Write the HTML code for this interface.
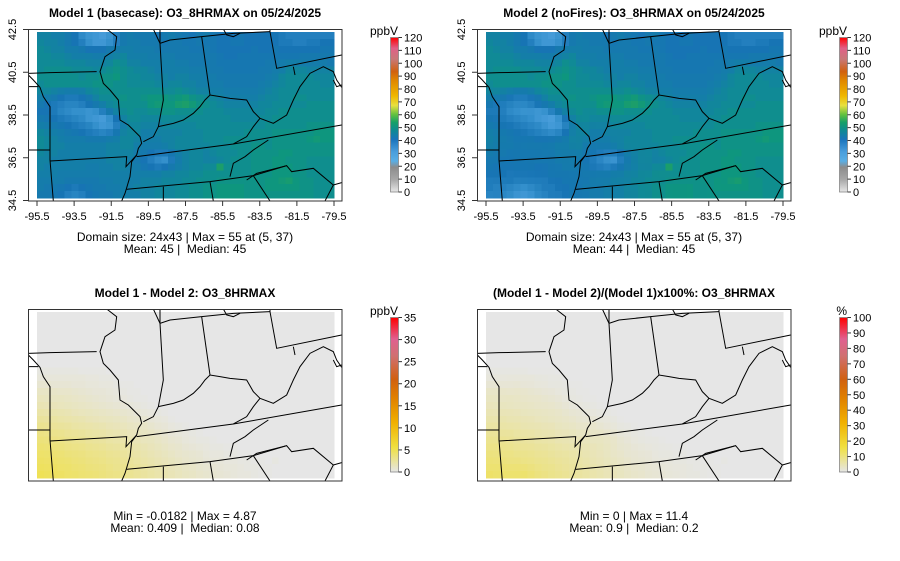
<!DOCTYPE html>
<html><head><meta charset="utf-8">
<style>
html,body{margin:0;padding:0;background:#fff;}
svg{display:block;font-family:"Liberation Sans",sans-serif;}
text{white-space:pre;}
</style></head>
<body>
<svg id="chart" width="900" height="561" viewBox="0 0 900 561" xmlns="http://www.w3.org/2000/svg">
<defs>
<g id="borders" fill="none" stroke="#000" stroke-width="3">
<path d="M85,220 L150,218 L290,215"/>
<path d="M85,260 L115,260"/>
<path d="M85,225 L100,240 L120,262 L130,290 L150,320 L150,480 L160,603"/>
<path d="M85,450 L150,450"/>
<path d="M150,483 L380,470 L378,500 L410,465"/>
<path d="M320,87 L350,110 L345,150 L315,170 L300,215 L310,250 L330,270 L355,300 L360,360 L385,375 L400,390 L420,410 L425,430 L415,445 L410,465 L395,485 L390,530 L375,580 L365,603"/>
<path d="M410,470 L485,460 L700,432 L1025,375"/>
<path d="M380,568 L630,545 L760,527 L860,497"/>
<path d="M740,540 L770,520 L860,497 L875,515 L940,505 L1000,555 L975,603"/>
<path d="M1000,555 L1025,548"/>
<path d="M480,87 L480,130 L490,300 L475,380 L460,410 L430,425"/>
<path d="M475,380 L520,370 L550,360 L580,340 L600,320 L615,300 L630,285 L660,290 L690,295 L740,300 L760,335 L780,355 L820,370 L860,345 L880,300 L900,260 L930,220 L970,200 L1000,215 L1010,240 L1025,262"/>
<path d="M605,110 L630,285"/>
<path d="M460,87 L480,130 L510,120 L605,110 L700,100 L810,95"/>
<path d="M670,87 L680,105 L700,110 L720,100"/>
<path d="M810,87 L810,95 L830,205 L1025,165"/>
<path d="M880,200 L885,225"/>
<path d="M780,355 L760,380 L740,410 L700,432"/>
<path d="M805,420 L760,450 L735,470 L700,490 L690,530"/>
<path d="M490,560 L490,603"/>
<path d="M630,545 L640,603"/>
<path d="M760,527 L810,603"/>
<path d="M1000,240 L1010,260 L1025,255"/>
</g>
<clipPath id="boxclip"><rect x="85" y="87" width="942" height="516"/></clipPath>
<linearGradient id="gradPpb" x1="0" y1="1" x2="0" y2="0">
<stop offset="0" stop-color="#e6e6e6"/><stop offset="0.08" stop-color="#a8a8a8"/>
<stop offset="0.16" stop-color="#8c8c8c"/><stop offset="0.2" stop-color="#5aaee4"/>
<stop offset="0.26" stop-color="#4a9edc"/><stop offset="0.34" stop-color="#1a74bc"/>
<stop offset="0.4" stop-color="#0f8a92"/><stop offset="0.45" stop-color="#16a068"/>
<stop offset="0.5" stop-color="#60c040"/><stop offset="0.56" stop-color="#e8e040"/>
<stop offset="0.62" stop-color="#f0b800"/><stop offset="0.72" stop-color="#e08800"/>
<stop offset="0.78" stop-color="#d06010"/><stop offset="0.86" stop-color="#c87878"/>
<stop offset="0.93" stop-color="#e06088"/><stop offset="1" stop-color="#ff0000"/>
</linearGradient>
<linearGradient id="gradDiff" x1="0" y1="1" x2="0" y2="0">
<stop offset="0" stop-color="#e6e6e6"/><stop offset="0.16" stop-color="#f0e040"/>
<stop offset="0.32" stop-color="#f0b000"/><stop offset="0.48" stop-color="#e08000"/>
<stop offset="0.6" stop-color="#d06010"/><stop offset="0.75" stop-color="#d07070"/>
<stop offset="0.86" stop-color="#e06090"/><stop offset="1" stop-color="#ff0000"/>
</linearGradient>
</defs>
<g id="layer"></g>
</svg>
<script>
// Model 1 O3_8HRMAX grid (24 rows north->south, 43 cols west->east), ppbV
const model1 = [
[45,45,44,44,42,40,36,34,33,32,34,38,42,43,42,42,42,40,42,43,42,41,40,42,43,41,40,40,40,41,40,40,40,40,40,39,38,38,38,38,38,38,38],
[46,45,45,44,42,40,38,35,33,33,35,38,42,43,43,42,42,42,41,42,42,41,41,42,41,41,40,40,41,41,40,40,40,40,40,39,39,38,38,39,39,40,40],
[47,46,45,45,43,43,42,40,40,40,42,43,44,44,43,43,43,42,42,42,42,42,41,41,42,41,40,40,40,40,40,41,40,40,41,40,40,40,40,40,40,41,41],
[47,47,46,46,45,44,44,44,43,43,44,45,46,44,44,44,43,43,43,43,42,42,42,42,42,42,41,40,40,41,41,41,41,41,41,41,41,41,42,42,42,42,42],
[47,47,47,47,46,46,46,45,45,45,46,48,47,45,45,44,44,44,44,44,43,43,42,42,42,42,41,41,41,41,41,41,41,42,42,43,44,44,43,43,43,43,42],
[47,48,48,48,48,47,47,47,46,47,48,49,48,47,46,46,45,44,44,44,44,44,43,43,43,42,42,41,41,41,41,41,42,42,43,44,46,46,46,45,45,45,45],
[48,48,48,48,48,48,47,48,48,49,49,50,48,47,47,46,46,45,45,44,45,45,44,44,43,43,42,42,42,42,42,42,42,43,44,46,47,47,47,47,46,46,46],
[47,48,48,48,48,48,48,48,49,49,49,48,48,47,47,47,47,46,45,46,46,45,45,44,44,43,43,42,42,42,42,42,43,44,45,46,47,47,47,47,47,46,46],
[46,46,45,44,43,43,44,46,47,48,48,48,48,48,48,48,48,48,47,47,48,47,46,45,45,44,44,43,43,43,43,43,44,45,46,47,47,47,47,47,47,47,47],
[44,43,42,40,39,39,40,42,45,47,47,48,49,48,48,49,50,50,50,49,50,51,49,48,47,46,45,44,44,44,44,44,45,46,46,47,47,48,48,47,47,47,47],
[42,40,39,38,37,37,38,40,42,44,46,47,48,48,48,48,50,51,50,50,52,53,51,49,48,47,46,45,45,45,45,45,46,46,47,47,47,47,47,48,48,48,48],
[40,40,39,37,36,35,35,34,35,38,42,45,47,48,47,47,48,48,49,49,48,48,48,48,47,47,47,46,46,46,46,46,46,47,47,48,48,48,48,48,48,48,48],
[42,41,40,39,38,37,36,34,33,32,35,40,45,47,47,46,46,46,47,47,47,47,47,47,47,47,47,47,46,46,46,46,47,47,48,48,48,48,48,48,48,48,48],
[44,43,42,41,40,39,38,37,35,33,34,38,44,46,46,45,45,45,46,46,46,46,46,47,47,47,47,47,47,47,47,47,47,48,48,48,48,48,48,49,49,49,49],
[46,45,44,43,42,41,40,39,38,37,38,41,45,46,46,44,44,45,45,45,45,46,46,46,47,47,47,47,47,47,48,48,48,48,49,49,49,49,49,49,50,50,50],
[47,46,45,44,43,43,43,42,42,42,43,44,46,46,45,44,44,44,45,45,46,46,46,46,47,47,47,48,48,48,48,48,48,48,49,49,49,49,49,50,51,50,50],
[47,46,45,45,44,44,44,44,44,44,45,45,46,46,44,43,43,43,44,45,46,46,46,46,46,47,47,47,48,48,48,49,49,48,49,49,49,49,49,49,49,49,49],
[46,45,45,44,44,44,44,44,44,44,45,45,45,45,43,42,40,39,39,41,44,45,46,46,45,46,47,47,47,48,48,49,49,49,49,50,50,49,49,49,49,49,49],
[45,45,44,44,44,44,44,44,44,44,45,45,45,44,42,40,38,36,35,39,43,45,46,46,45,45,46,47,48,48,48,49,49,49,50,50,49,49,49,48,48,48,48],
[45,44,44,44,44,44,44,43,43,44,44,45,45,44,43,41,40,39,40,42,44,45,46,46,47,47,53,48,48,48,48,49,49,49,50,50,50,49,49,48,48,48,48],
[44,44,44,43,43,43,43,43,43,44,44,44,44,44,44,44,44,44,45,45,46,46,47,47,48,48,48,48,48,48,48,49,49,49,50,50,50,49,49,48,48,48,48],
[43,43,43,43,42,42,42,42,42,43,43,44,44,44,44,45,45,45,46,46,46,47,47,48,48,48,49,49,49,49,49,49,49,50,50,51,52,50,49,49,48,48,48],
[43,42,42,41,40,39,40,41,42,42,43,43,44,44,45,45,45,46,46,46,47,47,48,48,49,49,50,50,50,50,49,49,49,50,50,50,50,50,49,49,48,48,48],
[42,42,41,40,38,37,38,40,41,42,42,43,44,44,44,45,45,46,46,46,47,47,48,48,49,49,50,50,50,50,49,49,49,49,49,49,49,49,49,49,48,48,48]
];
// Model 1 - Model 2 differences, ppbV (rows north->south)
const diffRows = [
[0,0,0,0,0,0,0,0,0,0,0,0,0,0,0,0,0,0,0,0,0,0,0,0,0,0,0,0,0,0,0,0,0,0,0,0,0,0,0,0,0,0,0],
[0,0,0,0,0,0,0,0,0,0,0,0,0,0,0,0,0,0,0,0,0,0,0,0,0,0,0,0,0,0,0,0,0,0,0,0,0,0,0,0,0,0,0],
[0,0,0,0,0,0,0,0,0,0,0,0,0,0,0,0,0,0,0,0,0,0,0,0,0,0,0,0,0,0,0,0,0,0,0,0,0,0,0,0,0,0,0],
[0,0,0,0,0,0,0,0,0,0,0,0,0,0,0,0,0,0,0,0,0,0,0,0,0,0,0,0,0,0,0,0,0,0,0,0,0,0,0,0,0,0,0],
[0,0,0,0,0,0,0,0,0,0,0,0,0,0,0,0,0,0,0,0,0,0,0,0,0,0,0,0,0,0,0,0,0,0,0,0,0,0,0,0,0,0,0],
[0,0,0,0,0,0,0,0,0,0,0,0,0,0,0,0,0,0,0,0,0,0,0,0,0,0,0,0,0,0,0,0,0,0,0,0,0,0,0,0,0,0,0],
[0,0,0,0,0,0,0,0,0,0,0,0,0,0,0,0,0,0,0,0,0,0,0,0,0,0,0,0,0,0,0,0,0,0,0,0,0,0,0,0,0,0,0],
[0,0,0,0,0,0,0,0,0,0,0,0,0,0,0,0,0,0,0,0,0,0,0,0,0,0,0,0,0,0,0,0,0,0,0,0,0,0,0,0,0,0,0],
[0.2,0.2,0.2,0.2,0.2,0.2,0.1,0.1,0.1,0.1,0,0,0,0,0,0,0,0,0,0,0,0,0,0,0,0,0,0,0,0,0,0,0,0,0,0,0,0,0,0,0,0,0],
[0.4,0.4,0.4,0.4,0.4,0.4,0.4,0.3,0.3,0.2,0.2,0.1,0,0,0,0,0,0,0,0,0,0,0,0,0,0,0,0,0,0,0,0,0,0,0,0,0,0,0,0,0,0,0],
[0.7,0.7,0.6,0.6,0.6,0.5,0.5,0.4,0.4,0.3,0.3,0.2,0.1,0.1,0,0,0,0,0,0,0,0,0,0,0,0,0,0,0,0,0,0,0,0,0,0,0,0,0,0,0,0,0],
[1.1,1.1,1,0.9,0.9,0.8,0.7,0.6,0.5,0.5,0.4,0.3,0.2,0.1,0.1,0,0,0,0,0,0,0,0,0,0,0,0,0,0,0,0,0,0,0,0,0,0,0,0,0,0,0,0],
[1.4,1.3,1.2,1.2,1.1,1,0.9,0.8,0.7,0.6,0.5,0.4,0.3,0.2,0.1,0.1,0,0,0,0,0,0,0,0,0,0,0,0,0,0,0,0,0,0,0,0,0,0,0,0,0,0,0],
[1.7,1.6,1.5,1.4,1.3,1.2,1.1,1,0.9,0.8,0.7,0.6,0.5,0.4,0.3,0.2,0.1,0,0,0,0,0,0,0,0,0,0,0,0,0,0,0,0,0,0,0,0,0,0,0,0,0,0],
[2.1,2,1.9,1.8,1.7,1.5,1.4,1.3,1.2,1.1,1,0.9,0.8,0.7,0.5,0.4,0.3,0.2,0.1,0,0,0,0,0,0,0,0,0,0,0,0,0,0,0,0,0,0,0,0,0,0,0,0],
[2.5,2.4,2.3,2.1,2,1.9,1.8,1.6,1.5,1.4,1.3,1.2,1.1,0.9,0.8,0.7,0.5,0.4,0.3,0.1,0,0,0,0,0,0,0,0,0,0,0,0,0,0,0,0,0,0,0,0,0,0,0],
[2.9,2.8,2.6,2.5,2.4,2.2,2.1,2,1.9,1.8,1.6,1.5,1.4,1.2,1.1,1,0.8,0.6,0.5,0.3,0.2,0.1,0,0,0,0,0,0,0,0,0,0,0,0,0,0,0,0,0,0,0,0,0],
[3.3,3.2,3,2.9,2.7,2.6,2.5,2.3,2.2,2.1,1.9,1.8,1.7,1.5,1.4,1.2,1.1,0.9,0.7,0.5,0.4,0.3,0.2,0.1,0,0,0,0,0,0,0,0,0,0,0,0,0,0,0,0,0,0,0],
[3.6,3.5,3.3,3.2,3,2.9,2.8,2.6,2.5,2.4,2.2,2.1,2,1.8,1.6,1.4,1.3,1.1,0.9,0.7,0.6,0.4,0.3,0.2,0.2,0.1,0,0,0,0,0,0,0,0,0,0,0,0,0,0,0,0,0],
[3.9,3.8,3.6,3.5,3.3,3.2,3.1,2.9,2.8,2.7,2.5,2.4,2.3,2.1,1.9,1.7,1.5,1.3,1.1,0.9,0.8,0.6,0.5,0.4,0.3,0.2,0.2,0.1,0.1,0,0,0,0,0,0,0,0,0,0,0,0,0,0],
[4.2,4.1,3.9,3.8,3.6,3.5,3.4,3.2,3.1,3,2.8,2.7,2.5,2.3,2.1,1.9,1.7,1.5,1.3,1.1,0.9,0.8,0.7,0.6,0.4,0.3,0.3,0.2,0.2,0.1,0.1,0,0,0,0,0,0,0,0,0,0,0,0],
[4.4,4.3,4.2,4,3.9,3.7,3.6,3.4,3.3,3.2,3,2.9,2.7,2.5,2.3,2.1,1.9,1.7,1.5,1.3,1.1,0.9,0.8,0.7,0.5,0.4,0.4,0.3,0.3,0.2,0.2,0.1,0.1,0,0.2,0,0,0,0,0,0,0,0],
[4.6,4.5,4.4,4.2,4.1,3.9,3.8,3.6,3.5,3.4,3.2,3,2.9,2.7,2.5,2.3,2.1,1.9,1.7,1.5,1.3,1.1,1,0.8,0.7,0.6,0.5,0.4,0.4,0.3,0.2,0.2,0.1,0.1,0,0,0,0,0,0,0,0,0],
[4.87,4.7,4.5,4.4,4.2,4.1,3.9,3.8,3.7,3.5,3.3,3.2,3,2.8,2.6,2.4,2.2,2,1.8,1.6,1.4,1.2,1.1,0.9,0.8,0.7,0.6,0.5,0.4,0.3,0.3,0.2,0.1,0.1,0,0,0,0,0,0,0,0,0]
];
const lonTicks = ["-95.5","-93.5","-91.5","-89.5","-87.5","-85.5","-83.5","-81.5","-79.5"];
const latTicks = ["42.5","40.5","38.5","36.5","34.5"];
const ppbTicks = [0,10,20,30,40,50,60,70,80,90,100,110,120];
const diffTicks = [0,5,10,15,20,25,30,35];
const pctTicks = [0,10,20,30,40,50,60,70,80,90,100];
const titles = ["Model 1 (basecase): O3_8HRMAX on 05/24/2025","Model 2 (noFires): O3_8HRMAX on 05/24/2025","Model 1 - Model 2: O3_8HRMAX","(Model 1 - Model 2)/(Model 1)x100%: O3_8HRMAX"];
const stats1 = ["Domain size: 24x43 | Max = 55 at (5, 37)","Mean: 45 |  Median: 45"];
const stats2 = ["Domain size: 24x43 | Max = 55 at (5, 37)","Mean: 44 |  Median: 45"];
const stats3 = ["Min = -0.0182 | Max = 4.87","Mean: 0.409 |  Median: 0.08"];
const stats4 = ["Min = 0 | Max = 11.4","Mean: 0.9 |  Median: 0.2"];

const model2 = model1.map((r,i)=>r.map((v,j)=>v - diffRows[i][j]));
const pctRows = model1.map((r,i)=>r.map((v,j)=>diffRows[i][j]/v*100*1.05));

const NS="http://www.w3.org/2000/svg";
const layer=document.getElementById('layer');
function el(tag,attrs,parent){const e=document.createElementNS(NS,tag);for(const k in attrs)e.setAttribute(k,attrs[k]);(parent||layer).appendChild(e);return e;}

const ppbStops=[[0,"#e6e6e6"],[10,"#a8a8a8"],[19,"#8c8c8c"],[24,"#5aaee4"],[31,"#4a9edc"],[35,"#3490cc"],[40,"#1774b4"],[44,"#147ea8"],[47,"#108a96"],[50,"#0e967e"],[55,"#25a45c"],[60,"#60c040"],[67,"#e8e040"],[75,"#f0b800"],[86,"#e08800"],[94,"#d06010"],[103,"#c87878"],[112,"#e06088"],[120,"#ff0000"]];
const diffStops=[[0,"#e6e6e6"],[0.16,"#f0e040"],[0.32,"#f0b000"],[0.48,"#e08000"],[0.6,"#d06010"],[0.75,"#d07070"],[0.86,"#e06090"],[1,"#ff0000"]];
function hex(c){return [parseInt(c.slice(1,3),16),parseInt(c.slice(3,5),16),parseInt(c.slice(5,7),16)];}
function interp(stops,v){
  if(v<=stops[0][0])return stops[0][1];
  for(let i=1;i<stops.length;i++){if(v<=stops[i][0]){const a=hex(stops[i-1][1]),b=hex(stops[i][1]);const t=(v-stops[i-1][0])/(stops[i][0]-stops[i-1][0]);return "rgb("+a.map((x,k)=>Math.round(x+(b[k]-x)*t)).join(",")+")";}}
  return stops[stops.length-1][1];
}
function ppbColor(v){return interp(ppbStops,v);}
function diffColor(v,max){return interp(diffStops,Math.max(0,v)/max);}

const gx0=37, gx1=334, gy0=32, gy1=198;
function colX(j,n){return gx0+(gx1-gx0)*j/n;}
function rowY(i,n){return gy0+(gy1-gy0)*i/n;}

function panel(dx,dy,grid,colorFn,title,stats,axes,barGrad,barTicks,barMax,barUnit){
  const g=el('g',{transform:`translate(${dx},${dy})`});
  
  
  const t=el('text',{x:185,y:17,'text-anchor':'middle','font-size':'12','font-weight':'bold'},g);
  t.textContent=title;
  
  
  const rows=grid.length, cols=grid[0].length;
  const cg=el('g',{'shape-rendering':'crispEdges'},g);
  
  
  for(let i=0;i<rows;i++)for(let j=0;j<cols;j++){
    const x=colX(j,cols), y=rowY(i,rows);
    const r=el('rect',{x:x.toFixed(2),y:y.toFixed(2),width:(colX(j+1,cols)-x+0.4).toFixed(2),height:(rowY(i+1,rows)-y+0.4).toFixed(2),fill:colorFn(grid[i][j])},cg);
    
    
  }
  const bg=el('g',{'clip-path':'url(#boxclip)',transform:'scale(0.33333)'},g);
  const u=el('use',{href:'#borders'},bg);
  
  
  const box=el('rect',{x:28.5,y:29.5,width:313.5,height:171.5,fill:'none',stroke:'#333','stroke-width':1},g);
  
  
  if(axes){
    lonTicks.forEach((lab,k)=>{
      const x=gx0+(gx1-gx0)*k/(lonTicks.length-1);
      el('line',{x1:x,x2:x,y1:201,y2:206,stroke:'#333'},g);
      const tx=el('text',{x:x,y:220,'text-anchor':'middle','font-size':'11'},g);
      tx.textContent=lab;
      
      
    });
    latTicks.forEach((lab,k)=>{
      const y=29.5+(200.5-29.5)*k/(latTicks.length-1);
      el('line',{x1:23,x2:28,y1:y,y2:y,stroke:'#333'},g);
      const ty=el('text',{x:0,y:0,'text-anchor':'middle','font-size':'11',transform:`translate(16,${y}) rotate(-90)`},g);
      ty.textContent=lab;
      
      
    });
  }
  stats.forEach((s,k)=>{
    const st=el('text',{x:185,y:(axes?241:240)+k*12,'text-anchor':'middle','font-size':'12'},g);
    st.textContent=s;
    
    
  });
  const by0=37.5, by1=192, bx=390.5;
  const bar=el('rect',{x:bx,y:by0,width:8,height:by1-by0,fill:`url(#${barGrad})`,stroke:'#888','stroke-width':0.8},g);
  
  
  barTicks.forEach(v=>{
    const y=by1-(by1-by0)*v/barMax;
    el('line',{x1:398.5,x2:402,y1:y,y2:y,stroke:'#333'},g);
    const lt=el('text',{x:404,y:y+4,'font-size':'11'},g);
    lt.textContent=v;
    
    
  });
  const ut=el('text',{x:398,y:35,'text-anchor':'end','font-size':'12'},g);
  ut.textContent=barUnit;
  
  
}
panel(0,0,model1,ppbColor,titles[0],stats1,true,'gradPpb',ppbTicks,120,'ppbV');
panel(449,0,model2,ppbColor,titles[1],stats2,true,'gradPpb',ppbTicks,120,'ppbV');
panel(0,280,diffRows,v=>diffColor(v,35),titles[2],stats3,false,'gradDiff',diffTicks,35,'ppbV');
panel(449,280,pctRows,v=>diffColor(v,100),titles[3],stats4,false,'gradDiff',pctTicks,100,'%');
</script>
</body></html>
